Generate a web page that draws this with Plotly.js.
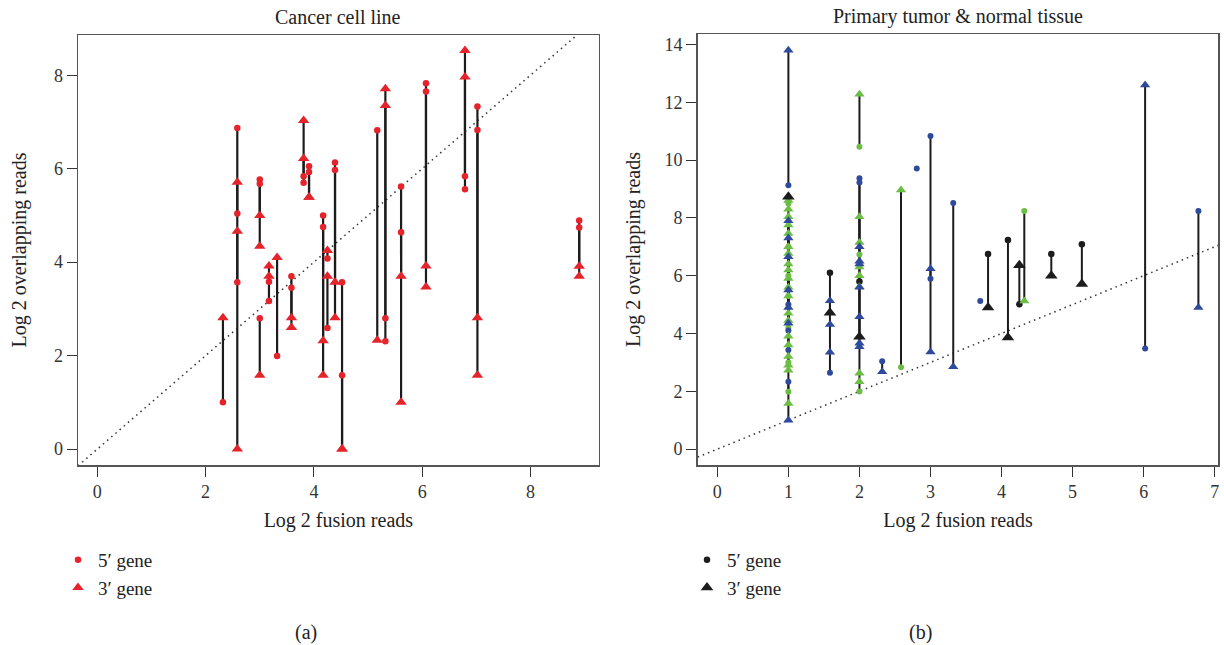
<!DOCTYPE html>
<html><head><meta charset="utf-8">
<script src="https://cdn.plot.ly/plotly-3.0.1.min.js"></script>
<style>html,body{margin:0;padding:0;background:#fff}#chart{width:1224px;height:645px}</style>
</head><body><div id="chart"></div>
<script>
// ---------- Panel (a): Cancer cell line ----------
const cellX  = [2.32, 2.585,2.585,2.585, 3,3,3, 3.17,3.17, 3.32, 3.585,3.585, 3.81,3.81, 3.91,3.91, 4.17,4.17, 4.25,4.25, 4.39,4.39, 4.52,4.52, 5.17, 5.32,5.32, 5.61,5.61, 6.07,6.07, 6.79,6.79, 7.02,7.02, 8.9,8.9];
const cellY5 = [1.0, 6.87,5.04,3.57, 5.77,5.68,2.80, 3.58,3.17, 1.99, 3.70,3.45, 5.84,5.70, 6.05,5.93, 5.0,4.75, 4.08,2.59, 6.13,5.97, 3.57,1.58, 6.82, 2.80,2.31, 5.62,4.64, 7.83,7.65, 5.84,5.56, 7.33,6.83, 4.89,4.74];
const cellY3 = [2.81, 0,5.71,4.66, 5.0,4.34,1.58, 3.92,3.70, 4.10, 2.81,2.60, 7.03,6.22, 5.39,5.39, 2.32,1.58, 4.25,3.70, 2.81,3.57, 0,0, 2.33, 7.71,7.35, 1.0,3.70, 3.92,3.47, 8.53,7.96, 2.81,1.58, 3.91,3.70];

// ---------- Panel (b): Primary tumor & normal tissue ----------
const tumX = [
  1, 1,1,1,1,1,1,1,1, 1,1,1,1,1,1,1,1,1,1,1,1,1,1,1,1,1,1,1,1,
  1.585,1.585,1.585,1.585,
  2,2,2,2,2,2,2,2, 2,2,2,2,2,2,2,2,
  2.32, 2.585, 2.807, 3,3, 3.32, 3.70, 3.81, 4.09, 4.25, 4.32, 4.70, 5.13, 6.02, 6.77];
const tumY5 = [
  null, 9.13,5.0,4.1,3.43,2.33,null,null,null, 8.5,7.0,6.0,5.3,4.2,3.0,1.98,null,null,null,null,null,null,null,null,null,null,null,null,null,
  6.1, 2.64,null,null,
  5.8, 9.37,9.22,null,null,null,null,null, 10.46,1.99,6.73,null,null,null,null,null,
  3.04, 2.83, 9.71, 10.83,5.89, 8.51, 5.12, 6.75, 7.23, 5.01, 8.24, 6.75, 7.09, 3.48, 8.24];
const tumY3 = [
  8.73, 13.8,7.9,7.3,6.65,1.0,5.5,4.9,4.35, 8.6,8.3,8.04,7.75,7.46,7.0,6.77,6.4,6.2,5.9,5.6,5.3,4.7,4.45,3.9,3.6,3.2,2.9,2.73,1.58,
  4.72, 5.13,4.31,3.35,
  3.89, 3.54,7.0,6.5,6.4,5.6,4.58,3.66, 12.28,8.04,7.15,6.3,6.0,5.62,2.62,2.33,
  2.68, 8.96, null, 3.36,6.24, 2.85, null, 4.90, 3.86, 6.36, 5.12, 6.0, 5.71, 12.6, 4.90];
const tumSet = [
  'k', 'b','b','b','b','b','b','b','b', 'g','g','g','g','g','g','g','g','g','g','g','g','g','g','g','g','g','g','g','g',
  'k', 'b','b','b',
  'k', 'b','b','b','b','b','b','b', 'g','g','g','g','g','g','g','g',
  'b', 'g', 'b', 'b','b', 'b', 'b', 'k', 'k', 'k', 'g', 'k', 'k', 'b', 'b'];

const xTicksA = [0,2,4,6,8], yTicksA = [0,2,4,6,8];
const xTicksB = [0,1,2,3,4,5,6,7], yTicksB = [0,2,4,6,8,10,12,14];

// ---------- styles ----------
const RED = '#e5232b', BLUE = '#2f4a9c', GREEN = '#6cbd45', BLACK = '#1c1c1c';
const setColor = {k: BLACK, b: BLUE, g: GREEN};
const FONT = 'Liberation Serif, Times New Roman, serif';
const rangeA = {x: [-0.357, 9.26], y: [-0.34, 8.86]};
const rangeB = {x: [-0.276, 7.05], y: [-0.55, 14.36]};

function segs(xs, a, b) {
  const X = [], Y = [];
  xs.forEach((x, i) => {
    if (a[i] == null || b[i] == null) return;
    X.push(x, x, null); Y.push(a[i], b[i], null);
  });
  return {X, Y};
}
function pick(arr, f) { return arr.filter((_, i) => f(i)); }

const traces = [];
// Panel a
const la = segs(cellX, cellY5, cellY3);
traces.push({x: la.X, y: la.Y, xaxis: 'x', yaxis: 'y', mode: 'lines', line: {color: BLACK, width: 2.2}, showlegend: false, hoverinfo: 'skip'});
traces.push({x: cellX, y: cellY5, xaxis: 'x', yaxis: 'y', mode: 'markers', name: '5\u2032 gene',
  marker: {symbol: 'circle', size: 6.5, color: RED, line: {width: 0}}, legend: 'legend'});
traces.push({x: cellX, y: cellY3, xaxis: 'x', yaxis: 'y', mode: 'markers', name: '3\u2032 gene',
  marker: {symbol: 'triangle-up', size: 10, color: RED, line: {width: 0}}, legend: 'legend'});

// Panel b
const lb = segs(tumX, tumY5, tumY3);
traces.push({x: lb.X, y: lb.Y, xaxis: 'x2', yaxis: 'y2', mode: 'lines', line: {color: BLACK, width: 2}, showlegend: false, hoverinfo: 'skip'});
['g', 'b', 'k'].forEach(s => {
  const f = i => tumSet[i] === s;
  const isK = s === 'k';
  traces.push({x: pick(tumX, f), y: pick(tumY5, f), xaxis: 'x2', yaxis: 'y2', mode: 'markers',
    name: '5\u2032 gene', showlegend: isK, legend: 'legend2',
    marker: {symbol: 'circle', size: isK ? 6.5 : 6, color: setColor[s], line: {width: 0}}});
});
['g', 'b', 'k'].forEach(s => {
  const f = i => tumSet[i] === s;
  const isK = s === 'k';
  traces.push({x: pick(tumX, f), y: pick(tumY3, f), xaxis: 'x2', yaxis: 'y2', mode: 'markers',
    name: '3\u2032 gene', showlegend: isK, legend: 'legend2',
    marker: {symbol: 'triangle-up', size: isK ? 11 : 9, color: setColor[s], line: {width: 0}}});
});

const W = 1224, H = 645;
const axCommon = {
  showgrid: false, zeroline: false, showline: true, mirror: true,
  linecolor: '#555', linewidth: 1.5, ticks: 'outside', ticklen: 10, tickwidth: 1, tickcolor: '#333',
  tickfont: {family: FONT, size: 18, color: '#333'}
};
const titleFont = {family: FONT, size: 20, color: '#222'};

const layout = {
  width: W, height: H, margin: {l: 0, r: 0, t: 0, b: 0},
  paper_bgcolor: '#fff', plot_bgcolor: '#fff',
  xaxis: Object.assign({}, axCommon, {domain: [78/W, 598.7/W], anchor: 'y', range: rangeA.x, tickvals: xTicksA,
    title: {text: 'Log 2 fusion reads', font: titleFont, standoff: 12}}),
  yaxis: Object.assign({}, axCommon, {domain: [(H-465)/H, (H-35)/H], anchor: 'x', range: rangeA.y, tickvals: yTicksA,
    title: {text: 'Log 2 overlapping reads', font: titleFont, standoff: 22}}),
  xaxis2: Object.assign({}, axCommon, {domain: [697.7/W, 1218.3/W], anchor: 'y2', range: rangeB.x, tickvals: xTicksB,
    title: {text: 'Log 2 fusion reads', font: titleFont, standoff: 12}}),
  yaxis2: Object.assign({}, axCommon, {domain: [(H-465)/H, (H-34)/H], anchor: 'x2', range: rangeB.y, tickvals: yTicksB,
    title: {text: 'Log 2 overlapping reads', font: titleFont, standoff: 18}}),
  shapes: [
    {type: 'line', xref: 'x', yref: 'y', x0: rangeA.x[0], y0: rangeA.x[0], x1: rangeA.x[1], y1: rangeA.x[1],
      line: {color: '#333', width: 1.5, dash: '1.5px,4px'}, layer: 'below'},
    {type: 'line', xref: 'x2', yref: 'y2', x0: rangeB.x[0], y0: rangeB.x[0], x1: rangeB.x[1], y1: rangeB.x[1],
      line: {color: '#333', width: 1.5, dash: '1.5px,4px'}, layer: 'below'}
  ],
  legend: {x: 58/W, y: (H-541)/H, xanchor: 'left', yanchor: 'top', bgcolor: 'rgba(0,0,0,0)',
    font: {family: FONT, size: 19, color: '#222'}, itemwidth: 30, tracegroupgap: 0},
  legend2: {x: 687/W, y: (H-541)/H, xanchor: 'left', yanchor: 'top', bgcolor: 'rgba(0,0,0,0)',
    font: {family: FONT, size: 19, color: '#222'}, itemwidth: 30, tracegroupgap: 0},
  annotations: [
    {text: 'Cancer cell line', xref: 'paper', yref: 'paper', x: 338/W, y: (H-17)/H, xanchor: 'center', yanchor: 'middle',
      showarrow: false, font: {family: FONT, size: 20, color: '#222'}},
    {text: 'Primary tumor &amp; normal tissue', xref: 'paper', yref: 'paper', x: 958/W, y: (H-17)/H, xanchor: 'center', yanchor: 'middle',
      showarrow: false, font: {family: FONT, size: 20, color: '#222'}},
    {text: '(a)', xref: 'paper', yref: 'paper', x: 306/W, y: (H-632)/H, xanchor: 'center', yanchor: 'middle',
      showarrow: false, font: {family: FONT, size: 20, color: '#222'}},
    {text: '(b)', xref: 'paper', yref: 'paper', x: 920/W, y: (H-632)/H, xanchor: 'center', yanchor: 'middle',
      showarrow: false, font: {family: FONT, size: 20, color: '#222'}}
  ]
};

Plotly.newPlot('chart', traces, layout, {displayModeBar: false, staticPlot: true});
</script></body></html>
